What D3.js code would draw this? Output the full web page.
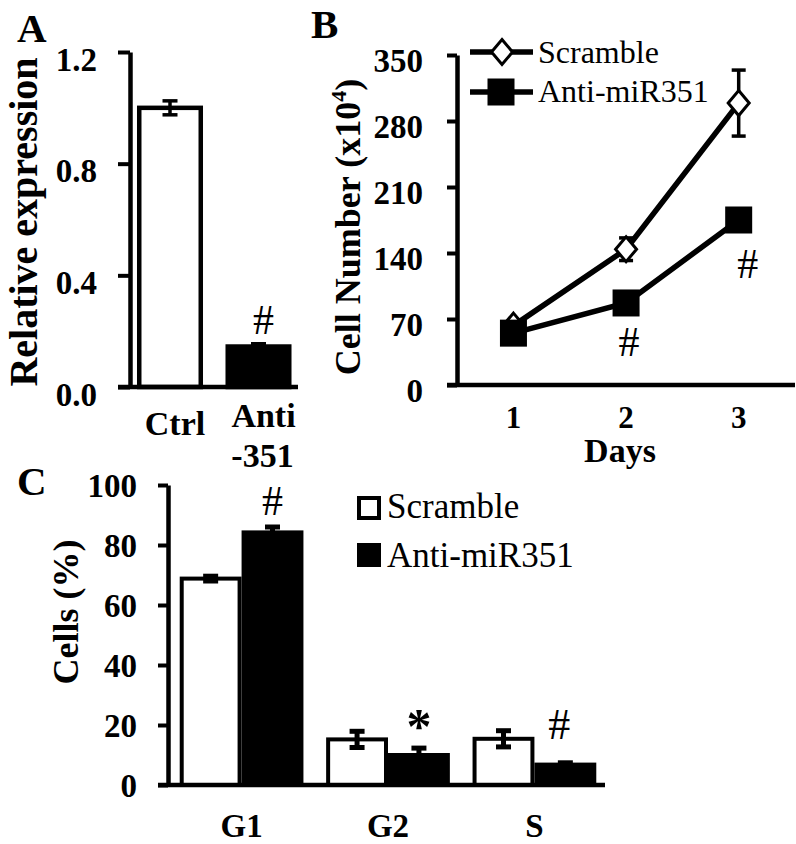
<!DOCTYPE html>
<html>
<head>
<meta charset="utf-8">
<script src="https://cdn.jsdelivr.net/npm/d3@7"></script>
<style>
  html, body { margin: 0; padding: 0; background: #fff; }
  svg { display: block; }
  text { font-family: "Liberation Serif", "Times New Roman", serif; fill: #000; }
</style>
</head>
<body>
<svg id="chart" width="796" height="844"></svg>
<script>
// ---------------- DATA ----------------
// Panel A
const catsA = ["Ctrl", "Anti"];
const valuesA = [1.0, 0.145];
const errorsA = [0.025, 0.01];
const ticksA = [0, 0.4, 0.8, 1.2];

// Panel B
const days = [1, 2, 3];
const scrambleB = [63, 144, 299];
const scrambleErrB = [4, 12, 35];
const antiB = [55, 87, 175];
const antiErrB = [4, 6, 8];
const ticksB = [0, 70, 140, 210, 280, 350];

// Panel C
const phases = ["G1", "G2", "S"];
const scrambleC = [68.8, 15.2, 15.4];
const scrambleErrC = [0.8, 2.7, 2.7];
const antiC = [84.2, 10, 6.8];
const antiErrC = [1.8, 2.3, 0.6];
const ticksC = [0, 20, 40, 60, 80, 100];

const seriesNames = ["Scramble", "Anti-miR351"];

// ---------------- SETUP ----------------
const svg = d3.select("#chart");
const AX = 4.5;      // axis stroke width
const serif = '"Liberation Serif", "Times New Roman", serif';

function styleAxis(g, fontSize) {
  g.select(".domain").attr("stroke", "#000").attr("stroke-width", AX);
  g.selectAll(".tick line").attr("stroke", "#000").attr("stroke-width", 4);
  g.selectAll(".tick text")
    .attr("font-family", serif)
    .attr("font-weight", "bold")
    .attr("font-size", fontSize)
    .attr("fill", "#000");
}

function panelLabel(t, x, y) {
  svg.append("text").attr("x", x).attr("y", y)
    .attr("font-size", 41).attr("font-weight", "bold").text(t);
}

function errBar(g, x, y1, y2, cap, sw) {
  g.append("line").attr("x1", x).attr("x2", x).attr("y1", y1).attr("y2", y2)
    .attr("stroke", "#000").attr("stroke-width", sw);
  [y1, y2].forEach(y => g.append("line")
    .attr("x1", x - cap / 2).attr("x2", x + cap / 2).attr("y1", y).attr("y2", y)
    .attr("stroke", "#000").attr("stroke-width", sw));
}

// ================= PANEL A =================
{
  const g = svg.append("g");
  const y = d3.scaleLinear().domain([0, 1.2]).range([387, 52]);
  const x = d3.scaleBand().domain(catsA).range([130, 298.5]).paddingInner(0.254).paddingOuter(0.079);

  catsA.forEach((c, i) => {
    const bx = x(c), bw = x.bandwidth();
    g.append("rect")
      .attr("x", bx + 2.25).attr("width", bw - 4.5)
      .attr("y", y(valuesA[i])).attr("height", y(0) - y(valuesA[i]))
      .attr("fill", i === 0 ? "#fff" : "#000")
      .attr("stroke", "#000").attr("stroke-width", 4.5);
    errBar(g, bx + bw / 2, y(valuesA[i] + errorsA[i]), y(valuesA[i] - errorsA[i]), 15, 3.5);
  });

  const ax = g.append("g").attr("transform", "translate(130,0)")
    .call(d3.axisLeft(y).tickValues(ticksA).tickFormat(d3.format(".1f"))
      .tickSize(12).tickSizeOuter(0).tickPadding(21));
  styleAxis(ax, 33);
  ax.selectAll(".tick text").attr("dy", "0.55em");
  g.append("line").attr("x1", 118).attr("x2", 298).attr("y1", y(0)).attr("y2", y(0))
    .attr("stroke", "#000").attr("stroke-width", AX);

  g.append("text").attr("x", x("Ctrl") + x.bandwidth() / 2 + 5).attr("y", 435)
    .attr("text-anchor", "middle").attr("font-size", 34).attr("font-weight", "bold").text("Ctrl");
  const tA = g.append("text").attr("text-anchor", "middle").attr("font-size", 34).attr("font-weight", "bold");
  tA.append("tspan").attr("x", x("Anti") + x.bandwidth() / 2 + 5).attr("y", 427).text("Anti");
  tA.append("tspan").attr("x", x("Anti") + x.bandwidth() / 2 + 4).attr("y", 467).text("-351");

  g.append("text").attr("transform", "translate(37,222) rotate(-90)")
    .attr("text-anchor", "middle").attr("font-size", 40).attr("font-weight", "bold")
    .text("Relative expression");

  g.append("text").attr("x", x("Anti") + x.bandwidth() / 2 + 5)
    .attr("y", y(valuesA[1] + errorsA[1]) - 10)
    .attr("text-anchor", "middle").attr("font-size", 42).text("#");

  panelLabel("A", 17, 42);
}

// ================= PANEL B =================
{
  const g = svg.append("g");
  const y = d3.scaleLinear().domain([0, 350]).range([385, 55]);
  const x = d3.scaleLinear().domain([0.41, 3.5]).range([447, 795]);

  const ax = g.append("g").attr("transform", "translate(457,0)")
    .call(d3.axisLeft(y).tickValues(ticksB).tickSize(10).tickSizeOuter(0).tickPadding(24));
  styleAxis(ax, 33);
  ax.selectAll(".tick text").attr("dy", "0.5em");
  g.append("line").attr("x1", 447).attr("x2", 795).attr("y1", y(0)).attr("y2", y(0))
    .attr("stroke", "#000").attr("stroke-width", AX);

  days.forEach(d => g.append("text").attr("x", x(d)).attr("y", 428)
    .attr("text-anchor", "middle").attr("font-size", 31).attr("font-weight", "bold").text(d));
  g.append("text").attr("x", 620).attr("y", 462).attr("text-anchor", "middle")
    .attr("font-size", 34).attr("font-weight", "bold").text("Days");

  const yl = g.append("text").attr("transform", "translate(360,227) rotate(-90)")
    .attr("text-anchor", "middle").attr("font-size", 36).attr("font-weight", "bold");
  yl.append("tspan").text("Cell Number (x10");
  yl.append("tspan").attr("font-size", 22).attr("dy", -14).text("4");
  yl.append("tspan").attr("dy", 14).text(")");

  const line = d3.line().x((v, i) => x(days[i])).y(v => y(v));
  const diamond = (cx, cy) => `M${cx},${cy - 12.5}L${cx + 10.5},${cy}L${cx},${cy + 12.5}L${cx - 10.5},${cy}Z`;

  scrambleB.forEach((v, i) => errBar(g, x(days[i]), y(v + scrambleErrB[i]), y(v - scrambleErrB[i]), 14, 3.5));
  g.append("path").datum(scrambleB).attr("d", line).attr("fill", "none")
    .attr("stroke", "#000").attr("stroke-width", 5.5);
  scrambleB.forEach((v, i) => g.append("path").attr("d", diamond(x(days[i]), y(v)))
    .attr("fill", "#fff").attr("stroke", "#000").attr("stroke-width", 3));

  antiB.forEach((v, i) => errBar(g, x(days[i]), y(v + antiErrB[i]), y(v - antiErrB[i]), 14, 3.5));
  g.append("path").datum(antiB).attr("d", line).attr("fill", "none")
    .attr("stroke", "#000").attr("stroke-width", 5.5);
  antiB.forEach((v, i) => g.append("rect")
    .attr("x", x(days[i]) - 13.5).attr("y", y(v) - 13.5).attr("width", 27).attr("height", 27)
    .attr("fill", "#000"));

  g.append("text").attr("x", x(2) + 3).attr("y", y(antiB[1]) + 53)
    .attr("text-anchor", "middle").attr("font-size", 42).text("#");
  g.append("text").attr("x", x(3) + 9).attr("y", y(antiB[2]) + 58)
    .attr("text-anchor", "middle").attr("font-size", 42).text("#");

  const leg = [[52, 63], [92, 102]];
  seriesNames.forEach((s, i) => {
    const ly = leg[i][0];
    g.append("line").attr("x1", 470).attr("x2", 533).attr("y1", ly).attr("y2", ly)
      .attr("stroke", "#000").attr("stroke-width", 5.5);
    if (i === 0) g.append("path").attr("d", diamond(502, ly))
      .attr("fill", "#fff").attr("stroke", "#000").attr("stroke-width", 3);
    else g.append("rect").attr("x", 501 - 13.5).attr("y", ly - 13.5).attr("width", 27).attr("height", 27).attr("fill", "#000");
    g.append("text").attr("x", 538).attr("y", leg[i][1]).attr("font-size", 32).text(s);
  });

  panelLabel("B", 311, 38);
}

// ================= PANEL C =================
{
  const g = svg.append("g");
  const y = d3.scaleLinear().domain([0, 100]).range([785, 485]);
  const x = d3.scaleBand().domain(phases).range([168, 608]).paddingInner(0.155).paddingOuter(0.08);
  const xs = d3.scaleBand().domain(seriesNames).range([0, x.bandwidth()]);

  const series = [
    { name: seriesNames[0], vals: scrambleC, errs: scrambleErrC, fill: "#fff" },
    { name: seriesNames[1], vals: antiC, errs: antiErrC, fill: "#000" }
  ];
  series.forEach(s => {
    phases.forEach((p, i) => {
      const bx = x(p) + xs(s.name), bw = xs.bandwidth();
      g.append("rect")
        .attr("x", bx + 2).attr("width", bw - 4)
        .attr("y", y(s.vals[i])).attr("height", y(0) - y(s.vals[i]))
        .attr("fill", s.fill).attr("stroke", "#000").attr("stroke-width", 4);
    });
  });
  series.forEach(s => {
    phases.forEach((p, i) => {
      const cx = x(p) + xs(s.name) + xs.bandwidth() / 2;
      errBar(g, cx, y(s.vals[i] + s.errs[i]), y(s.vals[i] - s.errs[i]), 15, 5);
    });
  });

  const ax = g.append("g").attr("transform", "translate(168,0)")
    .call(d3.axisLeft(y).tickValues(ticksC).tickSize(10).tickSizeOuter(0).tickPadding(21));
  styleAxis(ax, 33);
  ax.selectAll(".tick text").attr("dy", "0.36em");
  g.append("line").attr("x1", 158).attr("x2", 605).attr("y1", y(0)).attr("y2", y(0))
    .attr("stroke", "#000").attr("stroke-width", AX);

  phases.forEach(p => g.append("text").attr("x", x(p) + x.bandwidth() / 2).attr("y", 837)
    .attr("text-anchor", "middle").attr("font-size", 33).attr("font-weight", "bold").text(p));

  g.append("text").attr("transform", "translate(78,612) rotate(-90)")
    .attr("text-anchor", "middle").attr("font-size", 36).attr("font-weight", "bold")
    .text("Cells (%)");

  const cxA = i => x(phases[i]) + xs(seriesNames[1]) + xs.bandwidth() / 2;
  g.append("text").attr("x", cxA(0)).attr("y", y(antiC[0] + antiErrC[0]) - 12)
    .attr("text-anchor", "middle").attr("font-size", 42).text("#");
  g.append("text").attr("x", cxA(1)).attr("y", y(antiC[1] + antiErrC[1]) - 5)
    .attr("text-anchor", "middle").attr("font-size", 50).attr("font-weight", "bold").text("*");
  g.append("text").attr("x", cxA(2) - 6).attr("y", y(antiC[2] + antiErrC[2]) - 24)
    .attr("text-anchor", "middle").attr("font-size", 44).text("#");

  const legY = [[498, 518], [545, 567]];
  series.forEach((s, i) => {
    g.append("rect").attr("x", 359).attr("y", legY[i][0]).attr("width", 20).attr("height", 20)
      .attr("fill", s.fill).attr("stroke", "#000").attr("stroke-width", 4);
    g.append("text").attr("x", 387).attr("y", legY[i][1]).attr("font-size", 35).text(s.name);
  });

  panelLabel("C", 17, 495);
}
</script>
</body>
</html>
